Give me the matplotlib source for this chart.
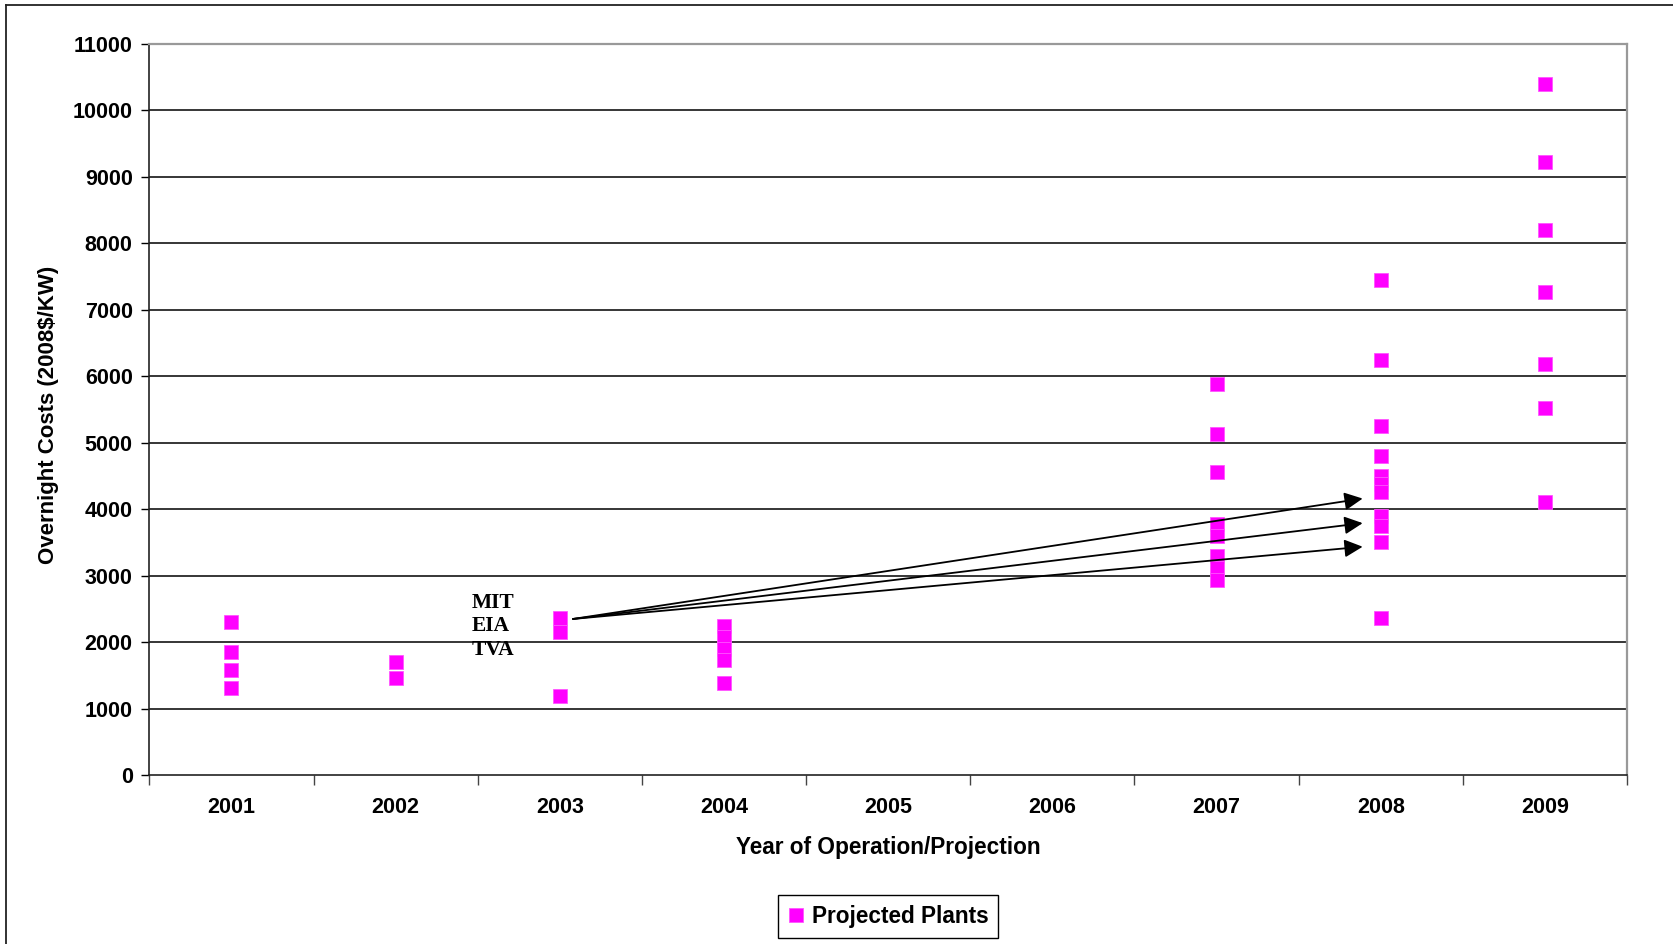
import matplotlib
matplotlib.use("Agg")
import matplotlib.pyplot as plt
from matplotlib.lines import Line2D

# ---- data ----
years = ['2001', '2002', '2003', '2004', '2005', '2006', '2007', '2008', '2009']
cost_2001 = [2300, 1845, 1580, 1305]
cost_2002 = [1695, 1460]
cost_2003 = [2358, 2147, 1184]
cost_2004 = [2240, 2070, 1900, 1725, 1390]
cost_2007 = [5880, 5130, 4555, 3775, 3595, 3290, 3110, 2930]
cost_2008 = [7444, 6240, 5248, 4796, 4495, 4375, 4255, 3893, 3743, 3502, 2358]
cost_2009 = [10392, 9225, 8197, 7264, 6180, 5518, 4104]
series = {'2001': cost_2001, '2002': cost_2002, '2003': cost_2003, '2004': cost_2004,
          '2007': cost_2007, '2008': cost_2008, '2009': cost_2009}
y_ticks = list(range(0, 11001, 1000))
labels_src = ['MIT', 'EIA', 'TVA']
label_y = [2590, 2242, 1880]
arrow_start = (2.08, 2348)
arrow_end_x = 6.89
arrow_end_y = [4160, 3790, 3435]

plt.rcParams['font.family'] = ['Liberation Sans', 'DejaVu Sans']
fig = plt.figure(figsize=(16.73, 9.44), dpi=100)
ax = fig.add_axes([149.4 / 1673, 169 / 944, 1477.6 / 1673, 731 / 944])

xs, ys = [], []
for yr, vals in series.items():
    idx = years.index(yr)
    xs += [idx] * len(vals)
    ys += vals
ax.plot(xs, ys, linestyle='none', marker='s', markersize=10, color='#FF00FF',
        markeredgecolor='#FF55FF', markeredgewidth=0.6, label='Projected Plants', zorder=3)

ax.set_xlim(-0.5, len(years) - 0.5)
ax.set_ylim(0, 11000)
ax.set_yticks(y_ticks)
ax.set_yticklabels([str(v) for v in y_ticks], fontsize=15.5, fontweight='bold')
ax.set_xticks(range(len(years)))
ax.set_xticklabels(years, fontsize=15.5, fontweight='bold')
ax.set_xticks([i - 0.5 for i in range(len(years) + 1)], minor=True)
ax.tick_params(axis='x', which='major', length=0, pad=16)
ax.tick_params(axis='x', which='minor', length=7, width=1, color='#444444', direction='out')
ax.tick_params(axis='y', which='major', length=6, width=1, pad=6, direction='out')

ax.yaxis.grid(True, color='black', linewidth=1.1)
gl = ax.yaxis.get_gridlines()
gl[0].set_visible(False)
gl[-1].set_visible(False)
ax.set_axisbelow(True)

for s in ['left', 'bottom']:
    ax.spines[s].set_color('#222222')
    ax.spines[s].set_linewidth(1.2)
for s in ['top', 'right']:
    ax.spines[s].set_color('#999999')
    ax.spines[s].set_linewidth(1.6)

ax.set_xlabel('Year of Operation/Projection', fontsize=16.3, fontweight='bold', va='center')
ax.xaxis.set_label_coords(0.5, -0.0985)
ax.set_ylabel('Overnight Costs (2008$/KW)', fontsize=16, fontweight='bold', va='center')
ax.yaxis.set_label_coords(-0.068, 0.493)

for t, yv in zip(labels_src, label_y):
    ax.text(1.46, yv, t, family=['Liberation Serif', 'DejaVu Serif'], fontweight='bold',
            fontsize=15.5, ha='left', va='center')

for ye in arrow_end_y:
    ax.annotate('', xy=(arrow_end_x, ye), xytext=arrow_start,
                arrowprops=dict(arrowstyle='-|>,head_length=0.55,head_width=0.27',
                                mutation_scale=20, color='black', lw=1.3,
                                shrinkA=0, shrinkB=0), zorder=4)

leg = fig.legend(loc='center', bbox_to_anchor=(0.5308, 0.0291),
                 prop={'weight': 'bold', 'size': 16.3}, fancybox=False,
                 edgecolor='black', framealpha=1, handlelength=0.7, handletextpad=0.35,
                 borderpad=0.45, markerscale=1.0)
leg.get_frame().set_linewidth(1.0)

# outer chart border (left and top)
fig.add_artist(Line2D([5.5 / 1673, 5.5 / 1673], [0, 1 - 4.5 / 944], transform=fig.transFigure,
                      color='#222222', linewidth=1.3))
fig.add_artist(Line2D([5.5 / 1673, 1], [1 - 4.5 / 944, 1 - 4.5 / 944], transform=fig.transFigure,
                      color='#222222', linewidth=1.3))

fig.savefig('out.png', dpi=100)
